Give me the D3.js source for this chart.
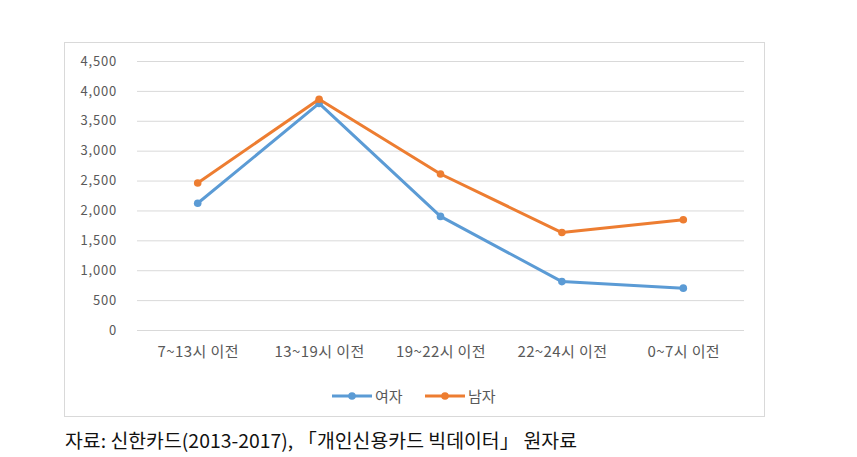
<!DOCTYPE html>
<html>
<head>
<meta charset="utf-8">
<script src="https://cdn.jsdelivr.net/npm/d3@7"></script>
<style>
  body { margin: 0; background: #fff; }
  svg { display: block; }
</style>
</head>
<body>
<svg id="chart" width="857" height="457"></svg>
<script>
const categories = ["7~13시 이전", "13~19시 이전", "19~22시 이전", "22~24시 이전", "0~7시 이전"];
const female = [2120, 3790, 1900, 810, 700];
const male = [2460, 3860, 2610, 1630, 1845];
const yTicks = [0, 500, 1000, 1500, 2000, 2500, 3000, 3500, 4000, 4500];

const series = [
    { name: "여자", values: female, color: "#5b9bd5" },
    { name: "남자", values: male, color: "#ed7d31" }
];

const svg = d3.select("#chart");
const font = "'Noto Sans CJK KR', 'Noto Sans', sans-serif";

// chart frame
svg.append("rect")
    .attr("x", 64.5).attr("y", 42.5)
    .attr("width", 700).attr("height", 374)
    .attr("fill", "#fff")
    .attr("stroke", "#d9d9d9");

const plotLeft = 137, plotRight = 744, plotTop = 61, plotBottom = 330;

const x = d3.scalePoint()
    .domain(categories)
    .range([plotLeft, plotRight])
    .padding(0.5);

const y = d3.scaleLinear()
    .domain([0, 4500])
    .range([plotBottom, plotTop]);

// gridlines
svg.append("g")
    .selectAll("line")
    .data(yTicks)
    .enter()
    .append("line")
    .attr("x1", plotLeft).attr("x2", plotRight)
    .attr("y1", d => y(d) + 0.5).attr("y2", d => y(d) + 0.5)
    .attr("stroke", "#d9d9d9")
    .attr("stroke-width", 1);

// y axis labels
const yAxis = svg.append("g")
    .attr("transform", `translate(${plotLeft - 20},0)`)
    .call(d3.axisLeft(y).tickValues(yTicks).tickSize(0).tickPadding(0).tickFormat(d3.format(",")));
yAxis.select(".domain").remove();
yAxis.selectAll("text")
    .style("font-family", font)
    .style("font-size", "13px")
    .style("letter-spacing", "0.8px")
    .style("fill", "#595959");

// x axis labels
const xAxis = svg.append("g")
    .attr("transform", `translate(0,${plotBottom + 16})`)
    .call(d3.axisBottom(x).tickSize(0).tickPadding(0));
xAxis.select(".domain").remove();
xAxis.selectAll("text")
    .style("font-family", font)
    .style("font-size", "15px")
    .style("letter-spacing", "0.4px")
    .style("fill", "#595959");

const line = d3.line()
    .x((d, i) => x(categories[i]))
    .y(d => y(d));

series.forEach(s => {
    svg.append("path")
        .datum(s.values)
        .attr("d", line)
        .attr("fill", "none")
        .attr("stroke", s.color)
        .attr("stroke-width", 3)
        .attr("stroke-linejoin", "round");

    svg.append("g")
        .selectAll("circle")
        .data(s.values)
        .enter()
        .append("circle")
        .attr("cx", (d, i) => x(categories[i]))
        .attr("cy", d => y(d))
        .attr("r", 3.8)
        .attr("fill", s.color);
});

// legend
const legend = svg.append("g").attr("transform", "translate(332,396)");
let lx = 0;
series.forEach(s => {
    const item = legend.append("g").attr("transform", `translate(${lx},0)`);
    item.append("line")
        .attr("x1", 0).attr("x2", 40)
        .attr("stroke", s.color)
        .attr("stroke-width", 3);
    item.append("circle")
        .attr("cx", 20).attr("r", 3.8)
        .attr("fill", s.color);
    item.append("text")
        .attr("x", 43).attr("y", 5.5)
        .style("font-family", font)
        .style("font-size", "15px")
        .style("fill", "#595959")
        .text(s.name);
    lx += 93;
});

// source caption
svg.append("text")
    .attr("x", 65).attr("y", 448)
    .attr("textLength", 512)
    .attr("lengthAdjust", "spacingAndGlyphs")
    .style("font-family", font)
    .style("font-size", "19px")
    .style("font-weight", 400)
    .style("fill", "#111")
    .text("자료: 신한카드(2013-2017), 「개인신용카드 빅데이터」 원자료");
</script>
</body>
</html>
